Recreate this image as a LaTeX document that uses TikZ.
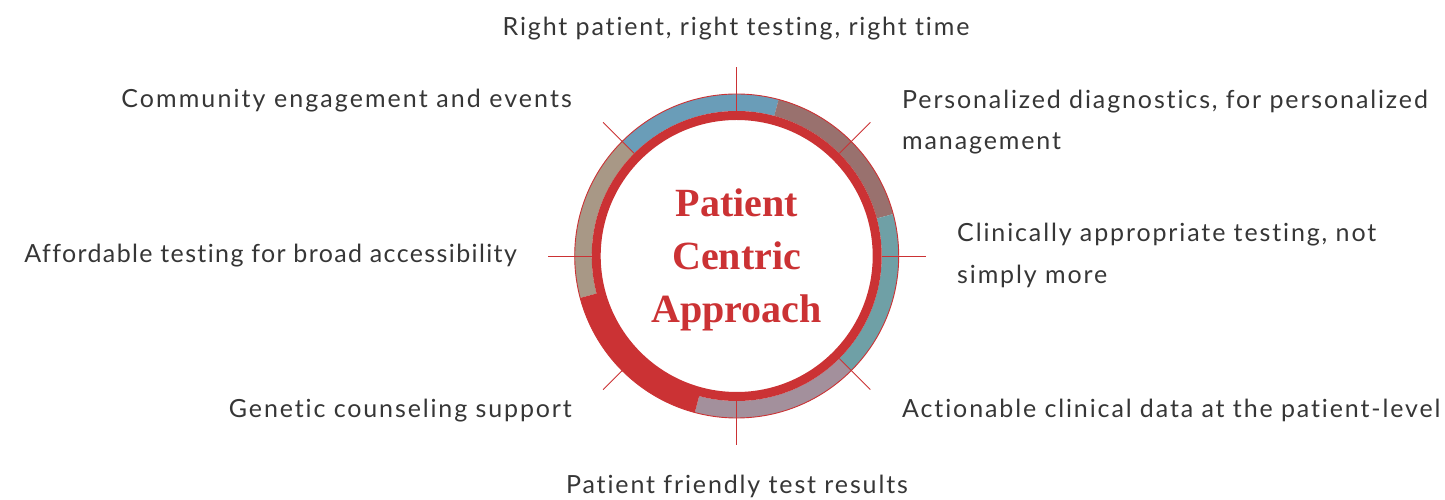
\documentclass[tikz,border=0pt]{standalone}
\usepackage{fontspec}
\setmainfont{Lato}[LetterSpace=7.5,Ligatures=CommonOff]
\newfontfamily\titlefont{Liberation Serif}
\definecolor{ringred}{HTML}{CB3234}
\definecolor{segblue}{HTML}{6A9DB8}
\definecolor{segmauve}{HTML}{99716E}
\definecolor{segteal}{HTML}{6FA0A6}
\definecolor{seglilac}{HTML}{A3909C}
\definecolor{segtan}{HTML}{A89886}
\definecolor{labelgray}{HTML}{363636}
\tikzset{
  lbl/.style={font=\fontsize{25}{30}\selectfont, text=labelgray, inner sep=0pt},
  ttl/.style={font=\titlefont\bfseries\fontsize{40}{48}\selectfont, text=ringred, inner sep=0pt, anchor=base},
  tick/.style={draw=ringred, line width=0.8pt},
}
\newcommand{\bandseg}[4]{%
  \fill[#3] (#1:162) arc[start angle=#1, end angle=#2, radius=162] -- (#2:#4) arc[start angle=#2, end angle=#1, radius=#4] -- cycle;}
\begin{document}
\begin{tikzpicture}[x=1pt,y=1pt]
\useasboundingbox (0,0) rectangle (1445,500);
\coordinate (C) at (736.7,244);
\begin{scope}[shift={(736.7,244)}]
  \bandseg{135}{75}{segblue}{145}
  \bandseg{75}{15}{segmauve}{145}
  \bandseg{15}{-45}{segteal}{145}
  \bandseg{-45}{-105}{seglilac}{145}
  \bandseg{195}{135}{segtan}{145}
  \draw[ringred, line width=9pt] (0,0) circle[radius=140.5];
  \bandseg{-105}{-165}{ringred}{138}
  \draw[ringred, line width=0.9pt] (0,0) circle[radius=162];
  \foreach \a in {0,45,...,315} {
    \draw[tick] (\a:145) -- (\a:189);
  }
\end{scope}
\node[ttl] (t1) at (736.7,283) {Patient};
\node[ttl] (t2) at (736.7,230) {Centric};
\node[ttl] (t3) at (736.7,177) {Approach};
\node[lbl, anchor=base] (top) at (736,464) {Right patient, right testing, right time};
\node[lbl, anchor=base east] (comm) at (572,392) {\addfontfeature{LetterSpace=8.3}Community engagement and events};
\node[lbl, anchor=base west] (pers1) at (902,391) {Personalized diagnostics, for personalized};
\node[lbl, anchor=base west] (pers2) at (902,350) {management};
\node[lbl, anchor=base west] (clin1) at (957,258) {Clinically appropriate testing, not};
\node[lbl, anchor=base west] (clin2) at (957,216) {simply more};
\node[lbl, anchor=base east] (aff) at (517,237) {\addfontfeature{LetterSpace=5.5}Affordable testing for broad accessibility};
\node[lbl, anchor=base east] (gen) at (572,82) {Genetic counseling support};
\node[lbl, anchor=base west] (act) at (902,82) {Actionable clinical data at the patient-level};
\node[lbl, anchor=base] (pft) at (737,6) {Patient friendly test results};
\end{tikzpicture}
\end{document}
